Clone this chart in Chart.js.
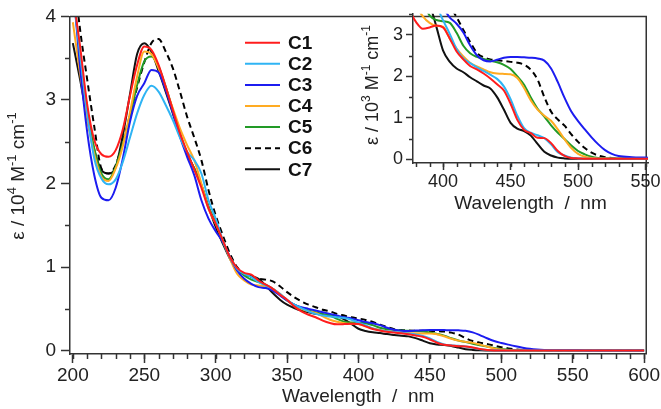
<!DOCTYPE html>
<html>
<head>
<meta charset="utf-8">
<script src="https://cdn.jsdelivr.net/npm/chart.js@4.4.0/dist/chart.umd.min.js"></script>
<style>
html, body { margin: 0; padding: 0; background: #fff; }
#wrap { position: relative; width: 661px; height: 409px; }
#main { position: absolute; left: 0; top: 0; }
#inset { position: absolute; left: 340px; top: 0; }
</style>
</head>
<body>
<div id="wrap">
  <canvas id="main" width="661" height="409"></canvas>
  <canvas id="inset" width="322" height="222"></canvas>
</div>
<script>
// Absorption spectra, epsilon in 10^4 M-1 cm-1 (inset shows the same data x10)

const FONT = '"Liberation Sans", Arial, Helvetica, sans-serif';
const AXIS = '#333';

const wavelengths = [200,205,210,215,220,225,230,235,240,245,250,255,260,265,270,275,280,285,290,295,
  300,305,310,315,320,325,330,335,340,345,350,355,360,365,370,375,380,385,390,395,
  400,405,410,415,420,425,430,435,440,445,450,455,460,465,470,475,480,485,490,495,
  500,505,510,515,520,525,530,540,550,560,580,600];

const seriesNames = ['C1', 'C2', 'C3', 'C4', 'C5', 'C6', 'C7'];
const seriesColors = ['#ff1c1c', '#2fb4f4', '#1c1cf0', '#ffab22', '#229a26', '#000000', '#111111'];

const c1 = [4.25,3.65,2.95,2.52,2.35,2.32,2.40,2.65,3.05,3.42,3.64,3.60,3.42,3.16,2.88,2.60,2.38,2.17,1.95,1.70,
  1.52,1.32,1.12,0.99,0.93,0.91,0.84,0.79,0.74,0.67,0.61,0.53,0.47,0.43,0.40,0.36,0.331,0.315,0.318,0.323,
  0.318,0.291,0.260,0.241,0.225,0.217,0.207,0.195,0.181,0.166,0.134,0.095,0.071,0.063,0.052,0.051,0.039,0.020,0.008,0.003,
  0.002,0.001,0.001,0.001,0.001,0.001,0.001,0.001,0.001,0.001,0.001,0.001];

const c2 = [4.30,3.55,2.85,2.30,2.06,1.99,2.05,2.26,2.55,2.84,3.06,3.17,3.10,2.94,2.76,2.55,2.38,2.28,2.12,1.80,
  1.58,1.32,1.12,0.98,0.92,0.88,0.82,0.78,0.74,0.68,0.61,0.55,0.51,0.47,0.44,0.42,0.41,0.40,0.39,0.37,
  0.335,0.302,0.266,0.243,0.232,0.222,0.213,0.204,0.194,0.176,0.145,0.105,0.075,0.064,0.058,0.051,0.036,0.017,0.009,0.004,
  0.002,0.001,0.001,0.001,0.001,0.001,0.001,0.001,0.001,0.001,0.001,0.001];

const c3 = [4.40,3.40,2.62,2.10,1.83,1.80,1.95,2.30,2.74,3.05,3.20,3.36,3.33,3.12,2.85,2.56,2.32,2.10,1.80,1.58,
  1.43,1.30,1.12,0.96,0.86,0.80,0.76,0.75,0.72,0.66,0.60,0.55,0.52,0.50,0.48,0.46,0.44,0.42,0.40,0.385,
  0.365,0.342,0.327,0.306,0.275,0.251,0.239,0.236,0.240,0.245,0.247,0.247,0.246,0.245,0.243,0.238,0.219,0.186,0.148,0.115,
  0.092,0.072,0.053,0.036,0.022,0.013,0.008,0.005,0.004,0.003,0.002,0.002];

const c4 = [3.93,3.32,2.78,2.35,2.08,2.03,2.18,2.45,2.85,3.28,3.58,3.55,3.38,3.14,2.90,2.66,2.46,2.28,2.00,1.70,
  1.52,1.32,1.10,0.92,0.84,0.79,0.78,0.77,0.74,0.68,0.60,0.54,0.50,0.47,0.45,0.41,0.37,0.345,0.329,0.322,
  0.320,0.291,0.267,0.248,0.233,0.224,0.217,0.210,0.207,0.206,0.205,0.196,0.172,0.142,0.120,0.105,0.093,0.072,0.048,0.027,
  0.013,0.006,0.003,0.002,0.002,0.002,0.002,0.002,0.002,0.002,0.002,0.002];

const c5 = [4.30,3.58,2.90,2.42,2.12,2.05,2.20,2.48,2.80,3.18,3.46,3.52,3.40,3.16,2.88,2.60,2.36,2.18,1.98,1.72,
  1.54,1.30,1.12,0.98,0.90,0.85,0.82,0.79,0.74,0.67,0.60,0.55,0.51,0.48,0.46,0.44,0.42,0.38,0.347,0.336,
  0.333,0.329,0.305,0.274,0.256,0.247,0.242,0.238,0.234,0.228,0.218,0.200,0.180,0.149,0.122,0.103,0.082,0.064,0.049,0.033,
  0.020,0.012,0.006,0.003,0.002,0.002,0.002,0.002,0.002,0.002,0.002,0.002];

const c6 = [4.60,3.85,3.25,2.68,2.18,2.12,2.22,2.50,2.82,3.15,3.45,3.68,3.73,3.58,3.38,3.10,2.80,2.55,2.28,1.92,
  1.62,1.38,1.16,1.00,0.92,0.88,0.86,0.85,0.83,0.77,0.70,0.64,0.59,0.55,0.52,0.49,0.47,0.44,0.42,0.40,
  0.385,0.368,0.343,0.312,0.283,0.257,0.246,0.241,0.239,0.237,0.235,0.233,0.228,0.216,0.192,0.150,0.115,0.096,0.081,0.060,
  0.042,0.027,0.016,0.009,0.005,0.003,0.002,0.002,0.002,0.002,0.002,0.002];

const c7 = [3.68,3.25,2.78,2.40,2.16,2.12,2.20,2.58,3.07,3.55,3.68,3.58,3.35,3.10,2.84,2.58,2.36,2.18,1.98,1.72,
  1.48,1.28,1.10,0.97,0.91,0.89,0.86,0.78,0.69,0.61,0.55,0.51,0.48,0.46,0.44,0.43,0.42,0.41,0.375,0.32,
  0.262,0.235,0.219,0.210,0.198,0.188,0.178,0.171,0.150,0.120,0.088,0.074,0.068,0.057,0.037,0.018,0.009,0.004,0.002,0.001,
  0.001,0.001,0.001,0.001,0.001,0.001,0.001,0.001,0.001,0.001,0.001,0.001];

const allSeries = [c1, c2, c3, c4, c5, c6, c7];

// tick labels
const xTicksMain = [200, 250, 300, 350, 400, 450, 500, 550, 600];
const yTicksMain = [0, 1, 2, 3, 4];
const xTicksInset = [400, 450, 500, 550];
const yTicksInset = [0, 1, 2, 3];

function range(a, b, step) {
    const out = [];
    for (let v = a; v <= b + 1e-9; v += step) out.push(Math.round(v * 100) / 100);
    return out;
}

function makeDatasets(scale) {
    return allSeries.map((vals, i) => ({
        label: seriesNames[i],
        data: wavelengths.map((w, j) => ({ x: w, y: vals[j] * scale })),
        borderColor: seriesColors[i],
        borderWidth: 2,
        borderDash: seriesNames[i] === 'C6' ? [6, 4] : [],
        pointRadius: 0,
        fill: false,
        cubicInterpolationMode: 'monotone'
    }));
}

// minor tick marks, drawn from the chart's own scales
const minorTicks = {
    id: 'minorTicks',
    afterDraw(chart, args, opts) {
        const { ctx } = chart;
        const xs = chart.scales.x, ys = chart.scales.y;
        ctx.save();
        ctx.strokeStyle = AXIS;
        ctx.lineWidth = 1.5;
        opts.x.forEach(v => {
            const px = Math.round(xs.getPixelForValue(v)) + 0.5;
            ctx.beginPath(); ctx.moveTo(px, xs.top); ctx.lineTo(px, xs.top + opts.len); ctx.stroke();
        });
        opts.y.forEach(v => {
            const py = Math.round(ys.getPixelForValue(v)) + 0.5;
            ctx.beginPath(); ctx.moveTo(ys.right, py); ctx.lineTo(ys.right - opts.len, py); ctx.stroke();
        });
        ctx.restore();
    }
};

// top and right frame of the main plot
const frame = {
    id: 'frame',
    afterDraw(chart, args, opts) {
        if (!opts.show) return;
        const { ctx, chartArea: a } = chart;
        ctx.save();
        ctx.strokeStyle = AXIS;
        ctx.lineWidth = 1.5;
        ctx.beginPath();
        ctx.moveTo(a.left, a.top); ctx.lineTo(a.right, a.top); ctx.lineTo(a.right, a.bottom);
        ctx.stroke();
        ctx.restore();
    }
};

// rotated axis title with superscripts
const yTitle = {
    id: 'yTitle',
    afterDraw(chart, args, opts) {
        const { ctx } = chart;
        const size = opts.size;
        const supSize = Math.round(size * 0.68);
        ctx.save();
        ctx.fillStyle = '#222';
        ctx.textBaseline = 'alphabetic';
        let total = 0;
        opts.parts.forEach(p => {
            ctx.font = (p.sup ? supSize : size) + 'px ' + FONT;
            p.w = ctx.measureText(p.t).width;
            total += p.w;
        });
        ctx.translate(opts.x, opts.y);
        ctx.rotate(-Math.PI / 2);
        let x = -total / 2;
        opts.parts.forEach(p => {
            ctx.font = (p.sup ? supSize : size) + 'px ' + FONT;
            ctx.fillText(p.t, x, p.sup ? -size * 0.42 : 0);
            x += p.w;
        });
        ctx.restore();
    }
};

// legend in the plot
const legendBox = {
    id: 'legendBox',
    afterDraw(chart, args, opts) {
        if (!opts.show) return;
        const { ctx } = chart;
        ctx.save();
        chart.data.datasets.forEach((ds, i) => {
            const y = opts.y + i * opts.gap;
            ctx.strokeStyle = ds.borderColor;
            ctx.lineWidth = 2;
            ctx.setLineDash(ds.borderDash);
            ctx.beginPath(); ctx.moveTo(opts.x, y); ctx.lineTo(opts.x + 35, y); ctx.stroke();
            ctx.setLineDash([]);
            ctx.fillStyle = '#111';
            ctx.font = 'bold 19px ' + FONT;
            ctx.textBaseline = 'middle';
            ctx.fillText(ds.label, opts.x + 43, y + 1);
        });
        ctx.restore();
    }
};

function axisOptions(o) {
    return {
        x: {
            type: 'linear', min: o.xMin, max: o.xMax,
            afterBuildTicks: s => { s.ticks = o.xTicks.map(v => ({ value: v })); },
            afterFit: s => { s.height = o.xHeight; },
            ticks: { font: { family: FONT, size: o.tickSize }, color: '#222', padding: o.xPad, maxRotation: 0, autoSkip: false },
            grid: { drawOnChartArea: false, drawTicks: true, tickLength: o.tickLen, tickColor: AXIS, tickWidth: 1.5 },
            border: { display: true, color: AXIS, width: 1.5 },
            title: { display: true, text: 'Wavelength  /  nm', color: '#222', font: { family: FONT, size: 19 }, padding: { top: 0, bottom: o.titlePad } }
        },
        y: {
            type: 'linear', min: o.yMin, max: o.yMax,
            afterBuildTicks: s => { s.ticks = o.yTicks.map(v => ({ value: v })); },
            afterFit: s => { s.width = o.yWidth; },
            ticks: { font: { family: FONT, size: o.tickSize }, color: '#222', padding: o.yPad },
            grid: { drawOnChartArea: false, drawTicks: true, tickLength: o.tickLen, tickColor: AXIS, tickWidth: 1.5 },
            border: { display: true, color: AXIS, width: 1.5 }
        }
    };
}

new Chart(document.getElementById('main'), {
    type: 'line',
    data: { datasets: makeDatasets(1) },
    options: {
        responsive: false, animation: false, devicePixelRatio: 1,
        layout: { padding: { top: 7, right: 13, left: 0, bottom: 0 } },
        scales: axisOptions({
            xMin: 198, xMax: 601.5, yMin: -0.04, yMax: 4,
            xTicks: xTicksMain, yTicks: yTicksMain,
            xHeight: 55, yWidth: 70, tickLen: 9, tickSize: 19, xPad: 1, yPad: 5, titlePad: 1
        }),
        plugins: {
            legend: { display: false },
            tooltip: { enabled: false },
            minorTicks: { x: range(200, 600, 10), y: range(0.5, 3.5, 1), len: 5 },
            frame: { show: true },
            legendBox: { show: true, x: 245, y: 42.7, gap: 21.1 },
            yTitle: {
                x: 24, y: 176, size: 19,
                parts: [{ t: 'ε / 10' }, { t: '4', sup: true }, { t: ' M' }, { t: '-1', sup: true }, { t: ' cm' }, { t: '-1', sup: true }]
            }
        }
    },
    plugins: [minorTicks, frame, legendBox, yTitle]
});

new Chart(document.getElementById('inset'), {
    type: 'line',
    data: { datasets: makeDatasets(10) },
    options: {
        responsive: false, animation: false, devicePixelRatio: 1,
        layout: { padding: { top: 7, right: 14, left: 0, bottom: 0 } },
        scales: axisOptions({
            xMin: 377.7, xMax: 551.8, yMin: -0.09, yMax: 3.51,
            xTicks: xTicksInset, yTicks: yTicksInset,
            xHeight: 59, yWidth: 73, tickLen: 7, tickSize: 18, xPad: 1, yPad: 3, titlePad: 7
        }),
        plugins: {
            legend: { display: false },
            tooltip: { enabled: false },
            minorTicks: { x: range(380, 550, 10), y: range(0.5, 3.5, 1), len: 4 },
            frame: { show: false },
            legendBox: { show: false },
            yTitle: {
                x: 38, y: 85, size: 18,
                parts: [{ t: 'ε / 10' }, { t: '3', sup: true }, { t: ' M' }, { t: '-1', sup: true }, { t: ' cm' }, { t: '-1', sup: true }]
            }
        }
    },
    plugins: [minorTicks, frame, legendBox, yTitle]
});
</script>
</body>
</html>
